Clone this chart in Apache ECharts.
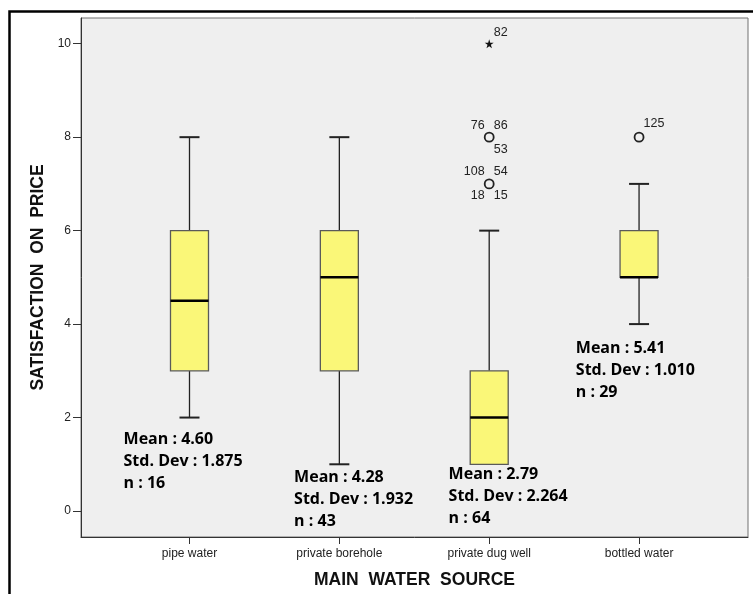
<!DOCTYPE html>
<html>
<head>
<meta charset="utf-8">
<script src="https://cdn.jsdelivr.net/npm/echarts@6/dist/echarts.min.js"></script>
<style>
html,body{margin:0;padding:0;background:#fff;}
#chart{width:753px;height:594px;}
</style>
</head>
<body>
<div id="chart"></div>
<script>
// ---- data ----
const categories = ['pipe water', 'private borehole', 'private dug well', 'bottled water'];
const minVals = [2, 1, 1, 4];
const q1Vals = [3, 3, 1, 5];
const medianVals = [4.5, 5, 2, 5];
const q3Vals = [6, 6, 3, 6];
const maxVals = [8, 8, 6, 7];
// outliers (circles): [categoryIndex, value]
const outliers = [[2, 7], [2, 8], [3, 8]];
const outlierIds = [['108', '54', '18', '15'], ['76', '86', '53'], ['125']];
// extremes (stars)
const extremes = [[2, 10]];
const extremeIds = [['82']];
// annotations
const meanText = ['4.60', '4.28', '2.79', '5.41'];
const sdText = ['1.875', '1.932', '2.264', '1.010'];
const nText = ['16', '43', '64', '29'];
const yTicks = [0, 2, 4, 6, 8, 10];

// ---- layout helpers (positions, not data) ----
const annoAnchors = [[-0.44, 1.055], [0.698, 0.257], [1.729, 0.321], [2.578, 3.016]];
const slot = {
  UL: {dx: -4.5, dy: -12, align: 'right'},
  UR: {dx: 4.5, dy: -12, align: 'left'},
  LL: {dx: -4.5, dy: 12, align: 'right'},
  LR: {dx: 4.5, dy: 12, align: 'left'}
};
const outlierSlots = [['UL', 'UR', 'LL', 'LR'], ['UL', 'UR', 'LR'], ['UR']];
const extremeSlots = [['UR']];

const boxData = categories.map((c, i) => [i, minVals[i], q1Vals[i], medianVals[i], q3Vals[i], maxVals[i]]);

const idLabels = [];
function pushIds(points, ids, slots, extraDy) {
  points.forEach((p, k) => {
    ids[k].forEach((id, j) => {
      const s = slot[slots[k][j]];
      idLabels.push({
        value: [p[0], p[1]],
        label: {
          formatter: id,
          offset: [s.dx, s.dy + (s.dy < 0 ? extraDy[k] : 0)],
          align: s.align
        }
      });
    });
  });
}
pushIds(outliers, outlierIds, outlierSlots, [0, 0, -1.5]);
pushIds(extremes, extremeIds, extremeSlots, [0.5]);

const annoData = categories.map((c, i) => ({
  value: annoAnchors[i],
  label: {formatter: 'Mean : ' + meanText[i] + '\nStd. Dev : ' + sdText[i] + '\nn : ' + nText[i]}
}));

const starPath = 'path://M50,0 L61,35 L98,35 L68,57 L79,91 L50,70 L21,91 L32,57 L2,35 L39,35 Z';

const chart = echarts.init(document.getElementById('chart'), null, {renderer: 'canvas'});
chart.setOption({
  animation: false,
  backgroundColor: '#ffffff',
  grid: {
    left: 81, top: 18, right: 5, bottom: 57,
    show: true, backgroundColor: '#efefef', borderColor: '#707070', borderWidth: 1
  },
  xAxis: {
    type: 'value', min: -0.724, max: 3.727,
    name: 'MAIN  WATER  SOURCE', nameLocation: 'middle', nameGap: 34,
    nameTextStyle: {fontFamily: 'Liberation Sans', fontSize: 17.5, fontWeight: 'bold', color: '#111'},
    axisLine: {show: true, onZero: false, lineStyle: {color: '#333', width: 1}},
    axisTick: {show: true, length: 7, customValues: [0, 1, 2, 3], lineStyle: {color: '#333'}},
    axisLabel: {
      customValues: [0, 1, 2, 3], margin: 11,
      formatter: v => categories[Math.round(v)] || '',
      fontFamily: 'Liberation Sans', fontSize: 12, color: '#222'
    },
    splitLine: {show: false}
  },
  yAxis: {
    type: 'value', min: -0.556, max: 10.55,
    name: 'SATISFACTION  ON  PRICE', nameLocation: 'middle', nameGap: 34,
    nameTextStyle: {fontFamily: 'Liberation Sans', fontSize: 17.5, fontWeight: 'bold', color: '#111'},
    axisLine: {show: true, onZero: false, lineStyle: {color: '#333', width: 1}},
    axisTick: {show: true, length: 8, customValues: yTicks, lineStyle: {color: '#333'}},
    axisLabel: {
      customValues: yTicks, margin: 10,
      fontFamily: 'Liberation Sans', fontSize: 12, color: '#222'
    },
    splitLine: {show: false}
  },
  graphic: [{
    type: 'polyline',
    shape: {points: [[9.5, 594], [9.5, 11.5], [753, 11.5]]},
    style: {stroke: '#000', lineWidth: 2.5, fill: null},
    silent: true
  }],
  series: [
    {
      type: 'custom',
      name: 'boxes',
      data: boxData,
      encode: {x: 0, y: [1, 2, 3, 4, 5]},
      renderItem: function (params, api) {
        const i = api.value(0);
        const x = api.coord([i, 0])[0];
        const yMin = api.coord([i, api.value(1)])[1];
        const yQ1 = api.coord([i, api.value(2)])[1];
        const yMed = api.coord([i, api.value(3)])[1];
        const yQ3 = api.coord([i, api.value(4)])[1];
        const yMax = api.coord([i, api.value(5)])[1];
        const bw = 38, cw = 20;
        const wStyle = {stroke: '#222', lineWidth: 1.3};
        const children = [];
        if (api.value(5) > api.value(4)) {
          children.push({type: 'line', shape: {x1: x, y1: yQ3, x2: x, y2: yMax}, style: wStyle});
          children.push({type: 'line', shape: {x1: x - cw / 2, y1: yMax, x2: x + cw / 2, y2: yMax}, style: {stroke: '#222', lineWidth: 2}});
        }
        if (api.value(1) < api.value(2)) {
          children.push({type: 'line', shape: {x1: x, y1: yQ1, x2: x, y2: yMin}, style: wStyle});
          children.push({type: 'line', shape: {x1: x - cw / 2, y1: yMin, x2: x + cw / 2, y2: yMin}, style: {stroke: '#222', lineWidth: 2}});
        }
        children.push({
          type: 'rect',
          shape: {x: x - bw / 2, y: yQ3, width: bw, height: yQ1 - yQ3},
          style: {fill: '#faf778', stroke: '#5a5a5a', lineWidth: 1.3}
        });
        children.push({type: 'line', shape: {x1: x - bw / 2, y1: yMed, x2: x + bw / 2, y2: yMed}, style: {stroke: '#000', lineWidth: 2.5}});
        return {type: 'group', children: children};
      },
      z: 2
    },
    {
      type: 'scatter',
      name: 'outliers',
      data: outliers,
      symbol: 'circle',
      symbolSize: 9,
      itemStyle: {color: 'rgba(0,0,0,0)', borderColor: '#222', borderWidth: 1.8, opacity: 1},
      z: 3
    },
    {
      type: 'scatter',
      name: 'extremes',
      data: extremes,
      symbol: starPath,
      symbolSize: 9,
      itemStyle: {color: '#111', opacity: 1},
      z: 3
    },
    {
      type: 'scatter',
      name: 'ids',
      data: idLabels,
      symbolSize: 0,
      silent: true,
      itemStyle: {opacity: 1},
      label: {
        show: true, position: 'inside', verticalAlign: 'middle',
        fontFamily: 'Liberation Sans', fontSize: 12.5, color: '#222'
      },
      z: 4
    },
    {
      type: 'scatter',
      name: 'annotations',
      data: annoData,
      symbolSize: 0,
      silent: true,
      itemStyle: {opacity: 1},
      label: {
        show: true, position: 'right', distance: 0, align: 'left', verticalAlign: 'middle',
        fontFamily: 'Open Sans', fontWeight: 'bold', fontSize: 16, lineHeight: 22, color: '#000'
      },
      z: 4
    }
  ]
});
</script>
</body>
</html>
